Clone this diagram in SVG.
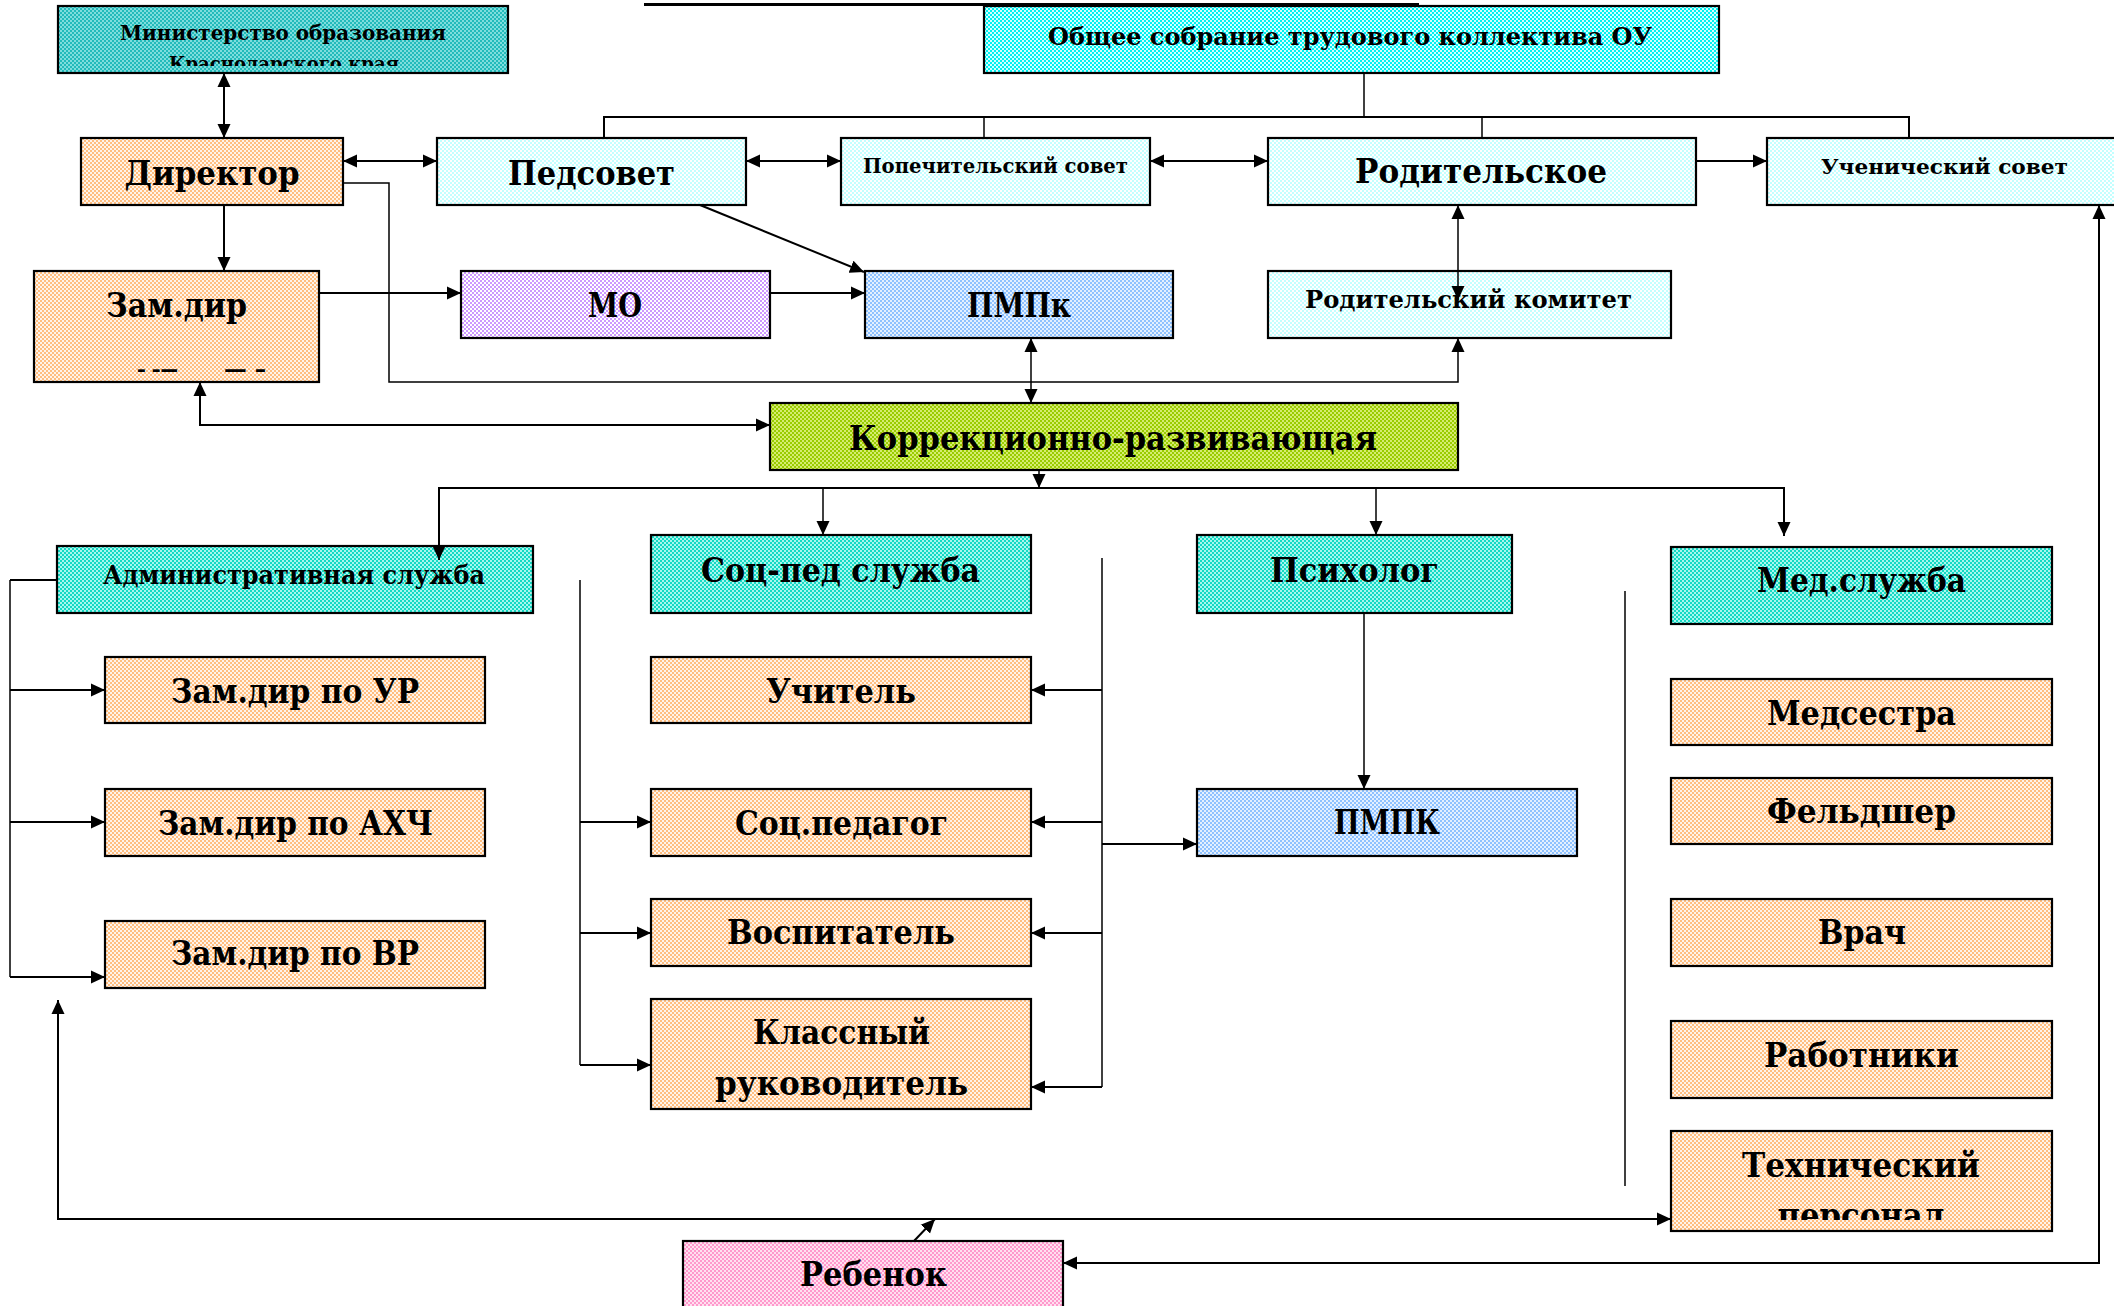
<svg xmlns="http://www.w3.org/2000/svg" width="2114" height="1306" viewBox="0 0 2114 1306">
<style>
.b{stroke:#000;stroke-width:2.2}
text{font-family:"DejaVu Serif","Liberation Serif",serif;font-weight:bold;fill:#000;text-anchor:middle}
.t34{font-size:34px}.t26{font-size:26px}.t25{font-size:25px}.t22{font-size:22px}.t21{font-size:21px}.t20{font-size:20px}
.c{fill:none;stroke:#000;stroke-width:2}
.thin{fill:none;stroke:#000;stroke-width:1.5}
.ar{marker-end:url(#ah)}
.ar2{marker-start:url(#ah);marker-end:url(#ah)}
</style>
<defs>
<marker id="ah" viewBox="0 0 14 14" refX="14" refY="7" markerWidth="14" markerHeight="14" markerUnits="userSpaceOnUse" orient="auto-start-reverse"><path d="M0,0.5 L14,7 L0,13.5 z" fill="#000"/></marker>
<pattern id="pPeach" width="4" height="4" patternUnits="userSpaceOnUse"><rect width="4" height="4" fill="#FFF4EA"/><rect width="2" height="2" fill="#FFBE80"/><rect x="2" y="2" width="2" height="2" fill="#FFBE80"/></pattern>
<pattern id="pLC" width="4" height="4" patternUnits="userSpaceOnUse"><rect width="4" height="4" fill="#fff"/><rect width="2" height="2" fill="#C2FFFF"/><rect x="2" y="2" width="2" height="2" fill="#C2FFFF"/></pattern>
<pattern id="pCy" width="4" height="4" patternUnits="userSpaceOnUse"><rect width="4" height="4" fill="#D0FFFF"/><rect width="2" height="2" fill="#00F0F0"/><rect x="2" y="2" width="2" height="2" fill="#00F0F0"/></pattern>
<pattern id="pTeal" width="4" height="4" patternUnits="userSpaceOnUse"><rect width="4" height="4" fill="#7FDDDD"/><rect width="2" height="2" fill="#22BBBB"/><rect x="2" y="2" width="2" height="2" fill="#22BBBB"/></pattern>
<pattern id="pTurq" width="4" height="4" patternUnits="userSpaceOnUse"><rect width="4" height="4" fill="#A8F7EE"/><rect width="2" height="2" fill="#14D9C4"/><rect x="2" y="2" width="2" height="2" fill="#14D9C4"/></pattern>
<pattern id="pBlue" width="4" height="4" patternUnits="userSpaceOnUse"><rect width="4" height="4" fill="#E4F0FF"/><rect width="2" height="2" fill="#8EC2FF"/><rect x="2" y="2" width="2" height="2" fill="#8EC2FF"/></pattern>
<pattern id="pLav" width="4" height="4" patternUnits="userSpaceOnUse"><rect width="4" height="4" fill="#fff"/><rect width="2" height="2" fill="#CC99FF"/><rect x="2" y="2" width="2" height="2" fill="#CC99FF"/></pattern>
<pattern id="pYG" width="4" height="4" patternUnits="userSpaceOnUse"><rect width="4" height="4" fill="#D6EC70"/><rect width="2" height="2" fill="#99CC00"/><rect x="2" y="2" width="2" height="2" fill="#99CC00"/></pattern>
<pattern id="pPink" width="4" height="4" patternUnits="userSpaceOnUse"><rect width="4" height="4" fill="#FFE0F0"/><rect width="2" height="2" fill="#FF99CC"/><rect x="2" y="2" width="2" height="2" fill="#FF99CC"/></pattern>
<clipPath id="clipMin" clipPathUnits="userSpaceOnUse"><rect x="58" y="6" width="450" height="60"/></clipPath>
<clipPath id="clipTech" clipPathUnits="userSpaceOnUse"><rect x="1671" y="1131" width="381" height="89"/></clipPath>
</defs>

<rect id="title-underline" x="644" y="3" width="775" height="3" fill="#000"/>

<g id="nodes">
<g id="n-min"><rect class="b" x="58" y="6" width="450" height="67" fill="url(#pTeal)"/><g clip-path="url(#clipMin)"><text class="t20" x="283" y="40" textLength="326" lengthAdjust="spacingAndGlyphs">Министерство  образования</text><text class="t20" x="284" y="71" textLength="230" lengthAdjust="spacingAndGlyphs">Краснодарского края</text></g></g>
<g id="n-obsh"><rect class="b" x="984" y="6" width="735" height="67" fill="url(#pCy)"/><text class="t25" x="1350" y="45" textLength="604" lengthAdjust="spacingAndGlyphs">Общее собрание трудового коллектива ОУ</text></g>
<g id="n-dir"><rect class="b" x="81" y="138" width="262" height="67" fill="url(#pPeach)"/><text class="t34" x="212" y="185" textLength="175" lengthAdjust="spacingAndGlyphs">Директор</text></g>
<g id="n-ped"><rect class="b" x="437" y="138" width="309" height="67" fill="url(#pLC)"/><text class="t34" x="591.5" y="185" textLength="167" lengthAdjust="spacingAndGlyphs">Педсовет</text></g>
<g id="n-pop"><rect class="b" x="841" y="138" width="309" height="67" fill="url(#pLC)"/><text class="t21" x="995.5" y="173" textLength="265" lengthAdjust="spacingAndGlyphs">Попечительский совет</text></g>
<g id="n-rod"><rect class="b" x="1268" y="138" width="428" height="67" fill="url(#pLC)"/><text class="t34" x="1481" y="183" textLength="252" lengthAdjust="spacingAndGlyphs">Родительское</text></g>
<g id="n-uch"><rect class="b" x="1767" y="138" width="360" height="67" fill="url(#pLC)"/><text class="t21" x="1944.5" y="174" textLength="247" lengthAdjust="spacingAndGlyphs">Ученический совет</text></g>
<g id="n-zam"><rect class="b" x="34" y="271" width="285" height="111" fill="url(#pPeach)"/><text class="t34" x="176.5" y="317" textLength="141" lengthAdjust="spacingAndGlyphs">Зам.дир</text><text class="t22" x="157.5" y="377" textLength="41" lengthAdjust="spacingAndGlyphs">– –—</text><text class="t22" x="245" y="377" textLength="42" lengthAdjust="spacingAndGlyphs">— –</text></g>
<g id="n-mo"><rect class="b" x="461" y="271" width="309" height="67" fill="url(#pLav)"/><text class="t34" x="615" y="317" textLength="54" lengthAdjust="spacingAndGlyphs">МО</text></g>
<g id="n-pmpk1"><rect class="b" x="865" y="271" width="308" height="67" fill="url(#pBlue)"/><text class="t34" x="1019" y="317" textLength="104" lengthAdjust="spacingAndGlyphs">ПМПк</text></g>
<g id="n-rodkom"><rect class="b" x="1268" y="271" width="403" height="67" fill="url(#pLC)"/><text class="t25" x="1468.5" y="308" textLength="327" lengthAdjust="spacingAndGlyphs">Родительский комитет</text></g>
<g id="n-korr"><rect class="b" x="770" y="403" width="688" height="67" fill="url(#pYG)"/><text class="t34" x="1113" y="450" textLength="528" lengthAdjust="spacingAndGlyphs">Коррекционно-развивающая</text></g>
<g id="n-adm"><rect class="b" x="57" y="546" width="476" height="67" fill="url(#pTurq)"/><text class="t26" x="294" y="584" textLength="382" lengthAdjust="spacingAndGlyphs">Административная служба</text></g>
<g id="n-socped"><rect class="b" x="651" y="535" width="380" height="78" fill="url(#pTurq)"/><text class="t34" x="840.5" y="582" textLength="279" lengthAdjust="spacingAndGlyphs">Соц-пед служба</text></g>
<g id="n-psih"><rect class="b" x="1197" y="535" width="315" height="78" fill="url(#pTurq)"/><text class="t34" x="1354.5" y="582" textLength="169" lengthAdjust="spacingAndGlyphs">Психолог</text></g>
<g id="n-med"><rect class="b" x="1671" y="547" width="381" height="77" fill="url(#pTurq)"/><text class="t34" x="1861.5" y="592" textLength="209" lengthAdjust="spacingAndGlyphs">Мед.служба</text></g>
<g id="n-zur"><rect class="b" x="105" y="657" width="380" height="66" fill="url(#pPeach)"/><text class="t34" x="295" y="703" textLength="248" lengthAdjust="spacingAndGlyphs">Зам.дир по УР</text></g>
<g id="n-zahch"><rect class="b" x="105" y="789" width="380" height="67" fill="url(#pPeach)"/><text class="t34" x="295.5" y="835" textLength="275" lengthAdjust="spacingAndGlyphs">Зам.дир по АХЧ</text></g>
<g id="n-zvr"><rect class="b" x="105" y="921" width="380" height="67" fill="url(#pPeach)"/><text class="t34" x="295" y="965" textLength="248" lengthAdjust="spacingAndGlyphs">Зам.дир по ВР</text></g>
<g id="n-uchit"><rect class="b" x="651" y="657" width="380" height="66" fill="url(#pPeach)"/><text class="t34" x="841" y="703" textLength="150" lengthAdjust="spacingAndGlyphs">Учитель</text></g>
<g id="n-socpedag"><rect class="b" x="651" y="789" width="380" height="67" fill="url(#pPeach)"/><text class="t34" x="841.5" y="835" textLength="213" lengthAdjust="spacingAndGlyphs">Соц.педагог</text></g>
<g id="n-vosp"><rect class="b" x="651" y="899" width="380" height="67" fill="url(#pPeach)"/><text class="t34" x="841" y="944" textLength="228" lengthAdjust="spacingAndGlyphs">Воспитатель</text></g>
<g id="n-klass"><rect class="b" x="651" y="999" width="380" height="110" fill="url(#pPeach)"/><text class="t34" x="841.5" y="1044" textLength="177" lengthAdjust="spacingAndGlyphs">Классный</text><text class="t34" x="841.5" y="1095" textLength="253" lengthAdjust="spacingAndGlyphs">руководитель</text></g>
<g id="n-pmpk2"><rect class="b" x="1197" y="789" width="380" height="67" fill="url(#pBlue)"/><text class="t34" x="1387" y="834" textLength="106" lengthAdjust="spacingAndGlyphs">ПМПК</text></g>
<g id="n-medses"><rect class="b" x="1671" y="679" width="381" height="66" fill="url(#pPeach)"/><text class="t34" x="1861.5" y="725" textLength="189" lengthAdjust="spacingAndGlyphs">Медсестра</text></g>
<g id="n-feld"><rect class="b" x="1671" y="778" width="381" height="66" fill="url(#pPeach)"/><text class="t34" x="1861.5" y="823" textLength="189" lengthAdjust="spacingAndGlyphs">Фельдшер</text></g>
<g id="n-vrach"><rect class="b" x="1671" y="899" width="381" height="67" fill="url(#pPeach)"/><text class="t34" x="1862" y="944" textLength="88" lengthAdjust="spacingAndGlyphs">Врач</text></g>
<g id="n-rabot"><rect class="b" x="1671" y="1021" width="381" height="77" fill="url(#pPeach)"/><text class="t34" x="1861.5" y="1067" textLength="195" lengthAdjust="spacingAndGlyphs">Работники</text></g>
<g id="n-tech"><rect class="b" x="1671" y="1131" width="381" height="100" fill="url(#pPeach)"/><g clip-path="url(#clipTech)"><text class="t34" x="1861" y="1177" textLength="238" lengthAdjust="spacingAndGlyphs">Технический</text><text class="t34" x="1861" y="1227" textLength="167" lengthAdjust="spacingAndGlyphs">персонал</text></g></g>
<g id="n-reb"><rect class="b" x="683" y="1241" width="380" height="80" fill="url(#pPink)"/><text class="t34" x="873.5" y="1286" textLength="147" lengthAdjust="spacingAndGlyphs">Ребенок</text></g>
</g>

<g id="connectors">
<path class="c ar2" d="M224,73 V138"/>
<path class="c ar2" d="M343,161 H437"/>
<path class="c ar2" d="M746,161 H841"/>
<path class="c ar2" d="M1150,161 H1268"/>
<path class="c ar" d="M1696,161 H1767"/>
<path class="thin" d="M1364,73 V117"/>
<path class="c" d="M604,138 V117 H1909 V138"/>
<path class="thin" d="M984,117 V138"/>
<path class="thin" d="M1482,117 V138"/>
<path class="c ar" d="M224,205 V271"/>
<path class="thin ar" d="M343,183 H389 V382 H1458 V338"/>
<path class="c ar" d="M700,205 L864,272"/>
<path class="c ar" d="M319,293 H461"/>
<path class="c ar" d="M770,293 H865"/>
<path class="thin ar2" d="M1031,338 V403"/>
<path class="thin ar2" d="M1458,205 V300"/>
<path class="c ar2" d="M200,382 V425 H770"/>
<path class="thin ar" d="M1039,470 V488"/>
<path class="c ar2" d="M439,560 V488 H1784 V536"/>
<path class="thin ar" d="M823,488 V535"/>
<path class="thin ar" d="M1376,488 V535"/>
<path class="c" d="M57,580 H10"/>
<path class="thin" d="M10,580 V977"/>
<path class="c ar" d="M10,690 H105"/>
<path class="c ar" d="M10,822 H105"/>
<path class="c ar" d="M10,977 H105"/>
<path class="thin" d="M580,580 V1065"/>
<path class="c ar" d="M580,822 H651"/>
<path class="c ar" d="M580,933 H651"/>
<path class="c ar" d="M580,1065 H651"/>
<path class="thin" d="M1102,558 V1087"/>
<path class="c ar" d="M1102,690 H1031"/>
<path class="c ar" d="M1102,822 H1031"/>
<path class="c ar" d="M1102,933 H1031"/>
<path class="c ar" d="M1102,1087 H1031"/>
<path class="c ar" d="M1102,844 H1197"/>
<path class="thin ar" d="M1364,613 V789"/>
<path class="thin" d="M1625,591 V1186"/>
<path class="c ar2" d="M58,1000 V1219 H1671"/>
<path class="c ar" d="M914,1241 L935,1219"/>
<path class="c ar2" d="M2099,205 V1263 H1063"/>
</g>
</svg>
